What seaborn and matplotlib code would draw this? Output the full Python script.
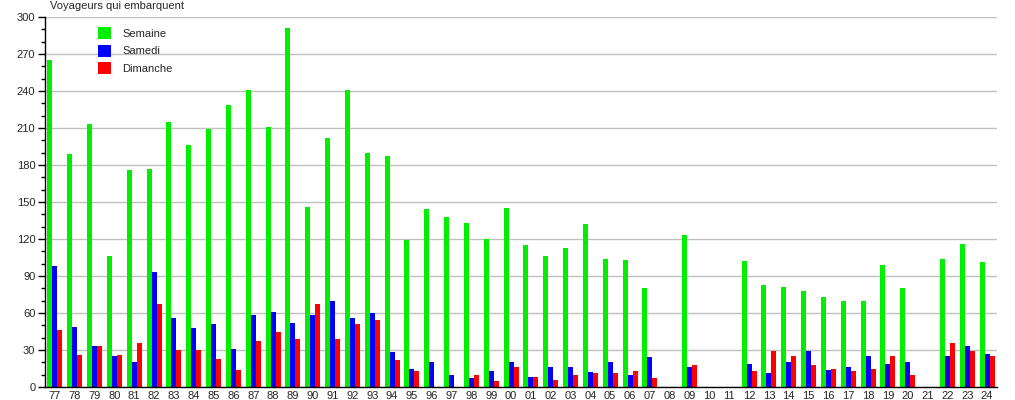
import numpy as np
import pandas as pd
import matplotlib
matplotlib.use("Agg")
import matplotlib.pyplot as plt
from matplotlib.ticker import MultipleLocator
import seaborn as sns

annees = ["77", "78", "79", "80", "81", "82", "83", "84", "85", "86", "87", "88",
          "89", "90", "91", "92", "93", "94", "95", "96", "97", "98", "99", "00",
          "01", "02", "03", "04", "05", "06", "07", "08", "09", "10", "11", "12",
          "13", "14", "15", "16", "17", "18", "19", "20", "21", "22", "23", "24"]

nan = np.nan
semaine = [265, 189, 213, 106, 176, 177, 215, 196, 209, 229, 241, 211,
           291, 146, 202, 241, 190, 187, 119, 144, 138, 133, 120, 145,
           115, 106, 113, 132, 104, 103, 80, nan, 123, nan, nan, 102,
           83, 81, 78, 73, 70, 70, 99, 80, nan, 104, 116, 101]
samedi = [98, 49, 33, 25, 20, 93, 56, 48, 51, 31, 58, 61,
          52, 58, 70, 56, 60, 28, 15, 20, 10, 7, 13, 20,
          8, 16, 16, 12, 20, 10, 24, nan, 16, nan, nan, 19,
          11, 20, 29, 14, 16, 25, 19, 20, nan, 25, 33, 27]
dimanche = [46, 26, 33, 26, 36, 67, 30, 30, 23, 14, 37, 45,
            39, 67, 39, 51, 54, 22, 13, 0, 0, 10, 5, 16,
            8, 6, 10, 11, 11, 13, 7, nan, 18, nan, nan, 13,
            29, 25, 18, 15, 13, 15, 25, 10, nan, 36, 29, 25]

series = ["Semaine", "Samedi", "Dimanche"]
couleurs = ["#00ee00", "#0000ff", "#ff0000"]

df = pd.DataFrame({
    "annee": annees * 3,
    "voyageurs": semaine + samedi + dimanche,
    "type": [s for s in series for _ in annees],
})

sns.set_style("white")
plt.rcParams["font.family"] = ["Liberation Sans", "DejaVu Sans"]

fig = plt.figure(figsize=(10.15, 4.0), dpi=100)
ax = fig.add_axes([45 / 1015, 13 / 400, 952 / 1015, 370 / 400])

sns.barplot(data=df, x="annee", y="voyageurs", hue="type", order=annees,
            hue_order=series, palette=couleurs, width=0.75, gap=0,
            saturation=1, ax=ax, linewidth=0)

ax.set_ylim(0, 300)
ax.set_xlim(-0.5, len(annees) - 0.5)
ax.yaxis.set_major_locator(MultipleLocator(30))
ax.yaxis.set_minor_locator(MultipleLocator(10))
ax.yaxis.grid(True, which="major", color="#c0c0c0", linewidth=1)
ax.set_axisbelow(True)

for side in ["top", "right"]:
    ax.spines[side].set_visible(False)
for side in ["left", "bottom"]:
    ax.spines[side].set_color("black")
    ax.spines[side].set_linewidth(1)

ax.tick_params(axis="y", which="major", direction="out", length=5, width=1,
               color="black", labelsize=8, pad=2, left=True)
ax.tick_params(axis="y", which="minor", direction="out", length=3, width=1,
               color="black", left=True)
ax.tick_params(axis="x", length=0, labelsize=8, pad=3)
ax.set_xlabel("")
ax.set_ylabel("")

ax.legend(loc="upper left", bbox_to_anchor=(0.045, 1.0), frameon=False,
          fontsize=8, handlelength=1.2, handleheight=1.3, handletextpad=1.0,
          labelspacing=0.5)

fig.text(50 / 1015, 1 - 6 / 400, "Voyageurs qui embarquent", fontsize=8,
         va="center", ha="left")

fig.savefig("out.png", dpi=100)
